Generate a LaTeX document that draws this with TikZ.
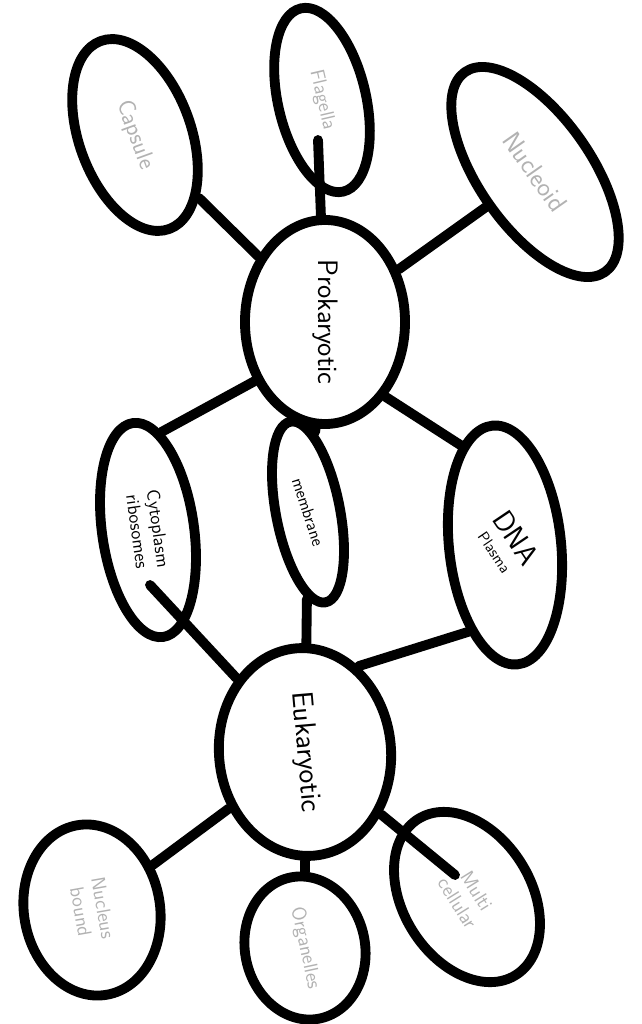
\documentclass[tikz,border=0pt]{standalone}
\usepackage{tikz}
\usetikzlibrary{shapes.geometric}

\begin{document}
\begin{tikzpicture}[x=0.025cm,y=-0.025cm,line cap=round,
    every node/.style={align=center,font=\sffamily},
    blob/.style={draw,ellipse,line width=7pt,inner sep=0pt},
    link/.style={line width=7pt},
    faint/.style={text=black!30}]
  \useasboundingbox (0,0) rectangle (642,1024);
  % the two main cells
  \node[blob,rotate=-90,minimum width=5.1cm,minimum height=4.0cm,font=\sffamily\fontsize{20}{22}\selectfont] (prok) at (325,322) {\raisebox{-6pt}{Prokaryotic}};
  \node[blob,rotate=-85,minimum width=5.2cm,minimum height=4.3cm,font=\sffamily\fontsize{21}{22}\selectfont] (euk) at (305,752) {\raisebox{-8pt}{Eukaryotic}};
  % prokaryotic only
  \node[blob,faint,rotate=-70,minimum width=5.0cm,minimum height=2.8cm,font=\sffamily\fontsize{17}{18}\selectfont] (caps) at (135,135) {Capsule};
  \node[blob,faint,rotate=-77,minimum width=4.7cm,minimum height=2.2cm,font=\sffamily\fontsize{14}{16}\selectfont] (flag) at (322,100) {Flagella};
  \node[blob,faint,rotate=-55,minimum width=6.1cm,minimum height=2.8cm,font=\sffamily\fontsize{19}{20}\selectfont] (nucl) at (535,172) {Nucleoid};
  % shared
  \node[blob,rotate=-82,minimum width=5.4cm,minimum height=2.3cm,font=\sffamily\fontsize{13}{15}\selectfont] (cyto) at (148,530) {Cytoplasm\\ribosomes};
  \node[blob,rotate=-79,minimum width=4.6cm,minimum height=1.6cm,font=\sffamily\fontsize{12}{14}\selectfont] (memb) at (308,512) {\rotatebox{7}{membrane}};
  \node[blob,rotate=-84,minimum width=6.0cm,minimum height=2.8cm] (dna) at (505,545)
    {\rotatebox{28}{\begin{tabular}{@{}c@{}}{\fontsize{21}{22}\selectfont DNA}\\[3pt]{\fontsize{11}{12}\selectfont Plasma}\end{tabular}}};
  % eukaryotic only
  \node[blob,faint,rotate=-80,minimum width=4.3cm,minimum height=3.4cm,font=\sffamily\fontsize{14}{16}\selectfont] (nucs) at (92,910) {Nucleus\\bound};
  \node[blob,faint,rotate=-78,minimum width=3.6cm,minimum height=3.0cm,font=\sffamily\fontsize{14}{16}\selectfont] (orgs) at (305,948) {Organelles};
  \node[blob,faint,rotate=-58,minimum width=4.6cm,minimum height=3.2cm,font=\sffamily\fontsize{14}{16}\selectfont] (mult) at (467,897) {Multi\\cellular};
  \coordinate (flagtail) at (318,140);
  \coordinate (cytotail) at (150,585);
  \coordinate (multtail) at (455,875);
  % links
  \draw[link] (caps) -- (prok);
  \draw[link] (flagtail) -- (prok);
  \draw[link] (nucl) -- (prok);
  \draw[link] (prok.310) -- (cyto.164);
  \draw[link] (prok) -- (memb);
  \draw[link] (prok.39) -- (dna.198);
  \draw[link] (cytotail) -- (euk);
  \draw[link] (memb) -- (euk);
  \draw[link] (dna.331) -- (euk.143);
  \draw[link] (euk) -- (nucs);
  \draw[link] (euk) -- (orgs);
  \draw[link] (euk) -- (multtail);
\end{tikzpicture}
\end{document}
